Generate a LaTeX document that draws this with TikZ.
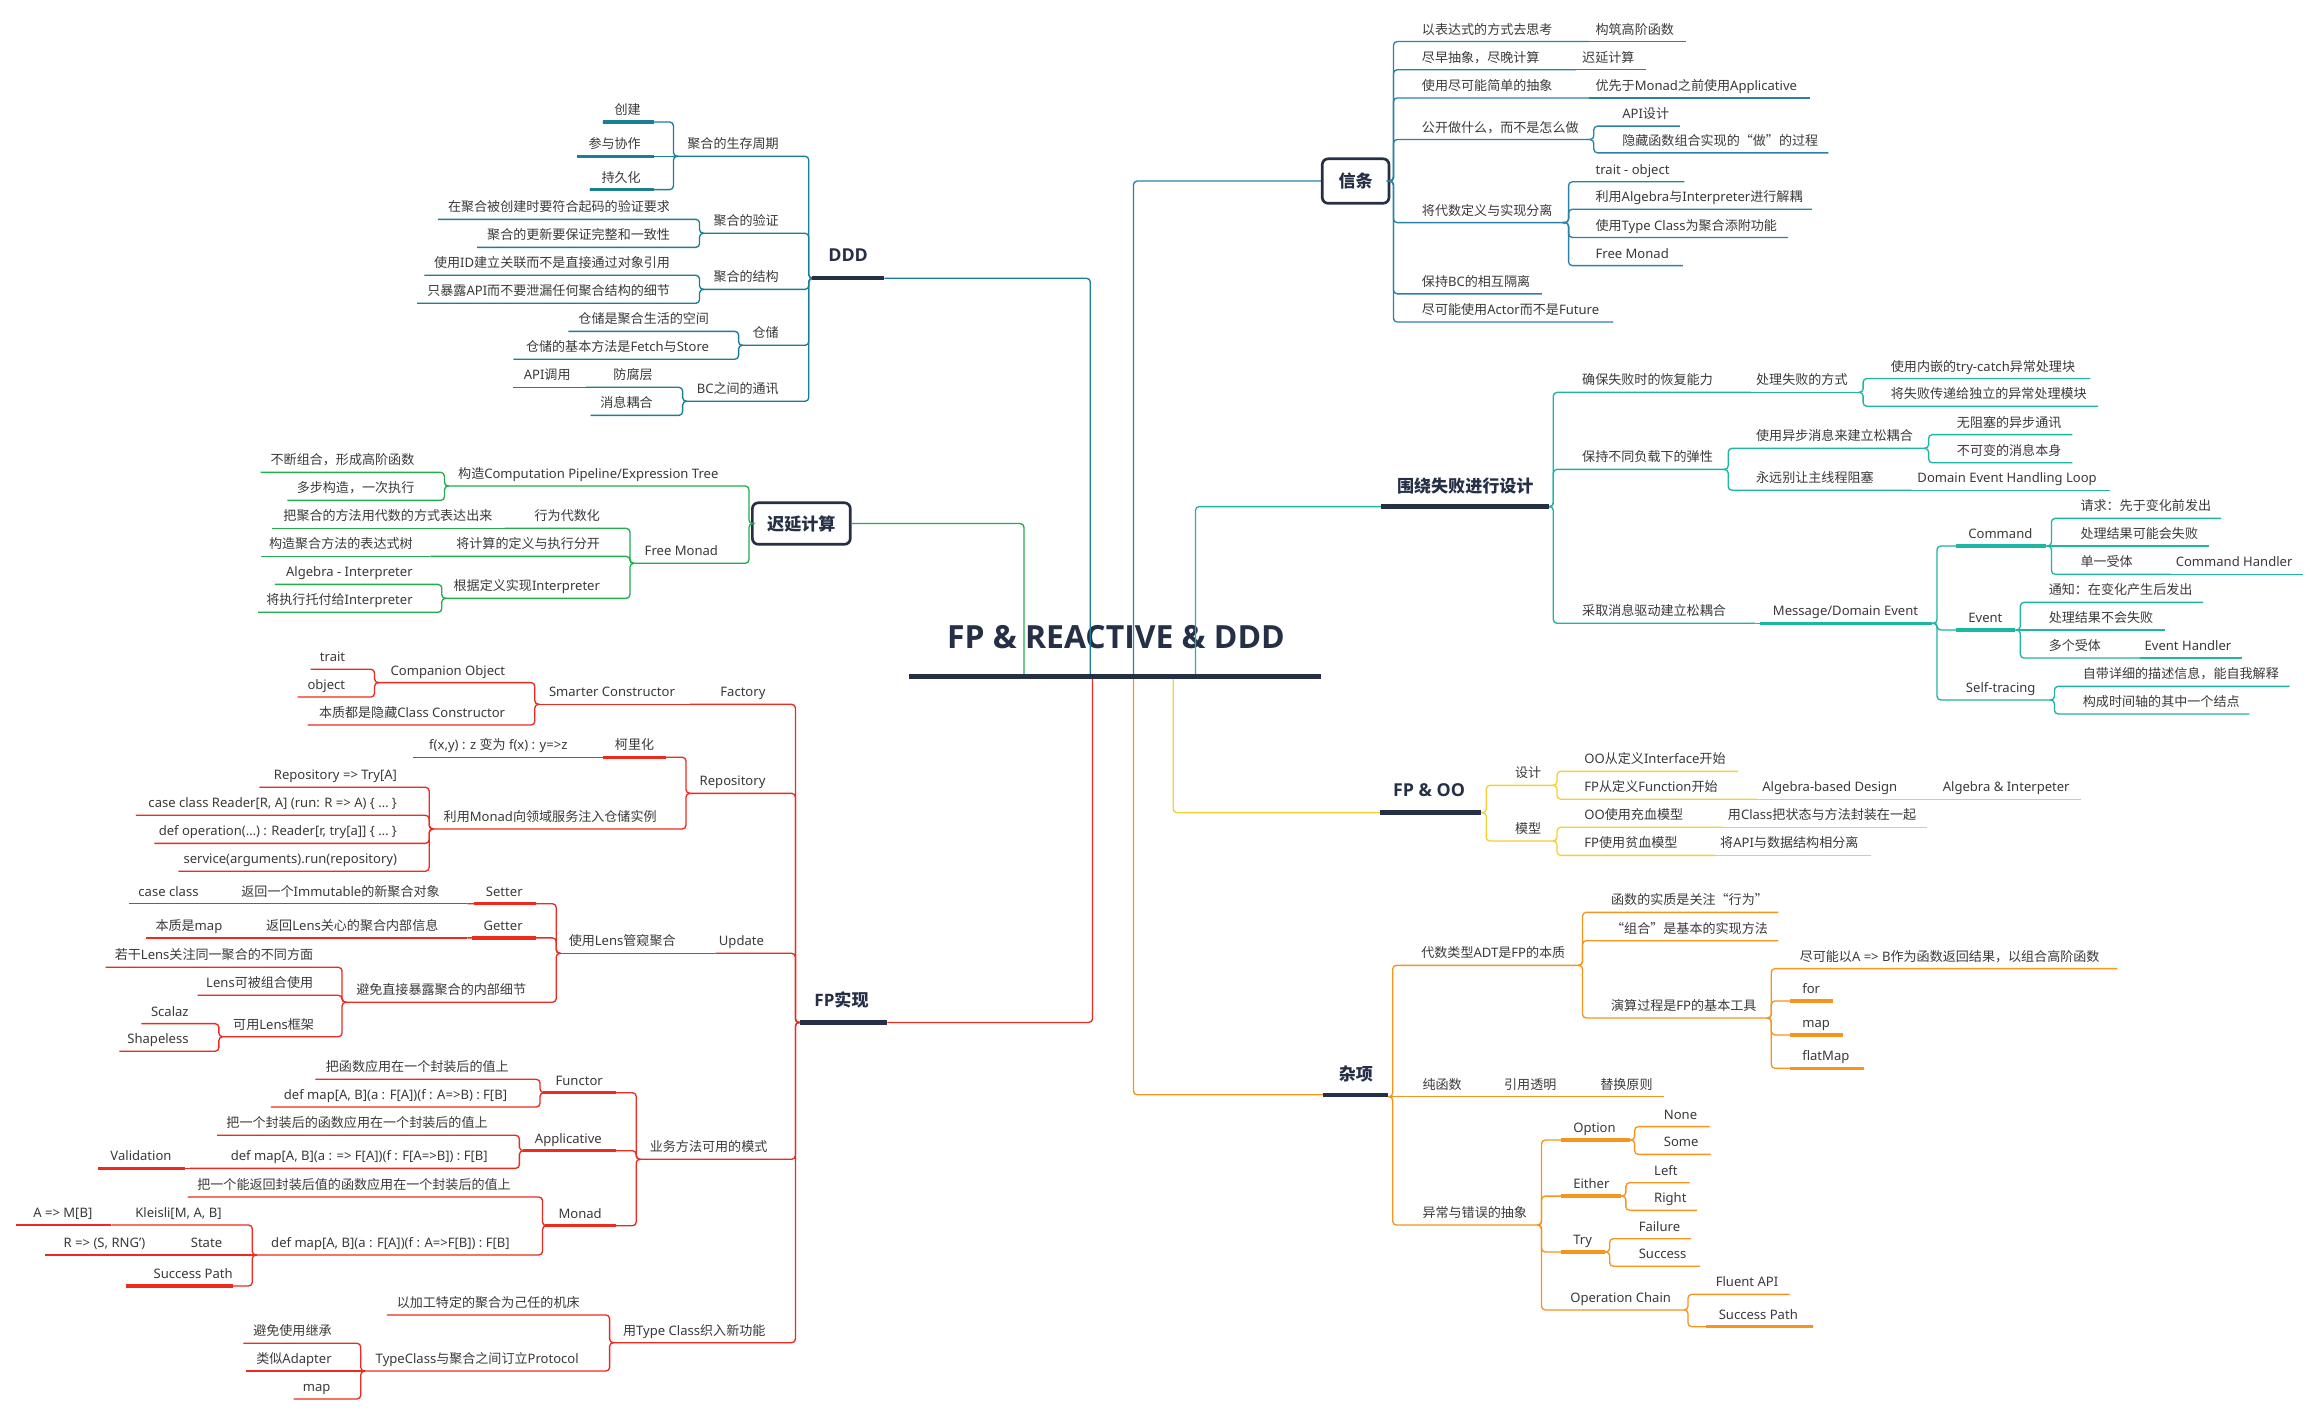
\documentclass[tikz,border=0pt]{standalone}
\usepackage{fontspec}
\setmainfont{Noto Sans}
\newfontfamily\cjkf{Noto Sans CJK SC}
\newfontfamily\latf{Noto Sans}
\newfontfamily\hdf{Open Sans}
\XeTeXinterchartokenstate=1
\newXeTeXintercharclass\cjkcls
\newcount\mycnt
\newcommand\setcjkrange[2]{\mycnt=#1\relax\loop\XeTeXcharclass\mycnt=\cjkcls\ifnum\mycnt<#2\advance\mycnt by 1\repeat}
\setcjkrange{"3000}{"303F}
\setcjkrange{"4E00}{"9FFF}
\setcjkrange{"FF00}{"FFEF}
\setcjkrange{"201C}{"201D}
\XeTeXinterchartoks 0 \cjkcls = {\cjkf}
\XeTeXinterchartoks 4095 \cjkcls = {\cjkf}
\XeTeXinterchartoks \cjkcls 0 = {\latf}
\XeTeXinterchartoks \cjkcls 4095 = {\latf}
\usetikzlibrary{calc}
\definecolor{txt}{HTML}{3A3A3A}
\definecolor{navy}{HTML}{253047}
\definecolor{cDDD}{HTML}{1A7E96}
\definecolor{cXT}{HTML}{2A82A6}
\definecolor{cCY}{HTML}{21AE4E}
\definecolor{cWR}{HTML}{1DB5A3}
\definecolor{cOO}{HTML}{F5CF35}
\definecolor{cZX}{HTML}{F7941D}
\definecolor{cFP}{HTML}{EE2A1F}
\def\bc{navy}
\tikzset{
  lbl/.style={inner sep=0pt, text=txt, font=\fontsize{8.8}{10}\selectfont},
  cn/.style={draw=\bc, line width=0.9pt, rounded corners=2.5pt},
  thk/.style={draw=\bc, line width=2.3pt},
  mainul/.style={draw=navy, line width=3pt},
  ttl/.style={inner sep=0pt, text=navy, font=\hdf\bfseries\fontsize{11.5}{13}\selectfont},
  ttlL/.style={inner sep=0pt, text=navy, font=\hdf\bfseries\fontsize{12}{14}\selectfont},
  tbox/.style={draw=navy, line width=1.8pt, rounded corners=4pt, fill=white, inner sep=0pt,
    text=navy, font=\hdf\bfseries\fontsize{11.5}{13}\selectfont}
}
\newcommand\nodeR[7]{\node[lbl,anchor=base west] (#1) at (#5,#4-5) {#7};\coordinate (#1-x) at (#6,#4);\draw[cn] (#2) -| (#3,#4) -- (#1-x);}
\newcommand\nodeL[7]{\node[lbl,anchor=base east] (#1) at (#5,#4-5) {#7};\coordinate (#1-x) at (#6,#4);\draw[cn] (#2) -| (#3,#4) -- (#1-x);}
\newcommand\chainR[6]{\node[lbl,anchor=base west] (#1) at (#4,#3-5) {#6};\coordinate (#1-x) at (#5,#3);\draw[cn] (#2) -- (#1-x);}
\newcommand\chainL[6]{\node[lbl,anchor=base east] (#1) at (#4,#3-5) {#6};\coordinate (#1-x) at (#5,#3);\draw[cn] (#2) -- (#1-x);}
\begin{document}
\begin{tikzpicture}[x=1pt,y=-1pt]
\fill[white] (0,0) rectangle (1560,953.5);
\useasboundingbox (0,0) rectangle (1560,953.5);

% root
\node[inner sep=0pt, text=navy, font=\hdf\bfseries\fontsize{21.5}{24}\selectfont, anchor=base] (root) at (752,437) {FP \& REACTIVE \& DDD};
\coordinate (rCY) at (690,456);
\coordinate (rDDD) at (734.7,456);
\coordinate (rXT) at (763.8,456);
\coordinate (rWR) at (805.6,456);
\coordinate (rFP) at (736.2,456);
\coordinate (rZX) at (763.8,456);
\coordinate (rOO) at (790.6,456);

% ================= 信条
\begin{scope}
\def\bc{cXT}
\node[tbox, minimum width=45pt, minimum height=30pt] (xt) at (913.5,122) {信条};
\draw[cn] (rXT) |- (xt.west);
\nodeR{x1}{xt.east}{939}{28}{958}{1071}{以表达式的方式去思考}
\chainR{x1a}{x1-x}{28}{1075}{1136}{构筑高阶函数}
\nodeR{x2}{xt.east}{939}{47}{958}{1062}{尽早抽象，尽晚计算}
\chainR{x2a}{x2-x}{47}{1066}{1109}{迟延计算}
\nodeR{x3}{xt.east}{939}{66}{958}{1071}{使用尽可能简单的抽象}
\chainR{x3a}{x3-x}{66}{1075}{1220}{优先于Monad之前使用Applicative}
\nodeR{x4}{xt.east}{939}{94}{958}{1070}{公开做什么，而不是怎么做}
\nodeR{x4a}{x4-x}{1074}{85}{1093}{1132}{API设计}
\nodeR{x4b}{x4-x}{1074}{103}{1093}{1232}{隐藏函数组合实现的“做”的过程}
\nodeR{x5}{xt.east}{939}{150}{958}{1053}{将代数定义与实现分离}
\nodeR{x5a}{x5-x}{1057}{122.5}{1075}{1135}{trait - object}
\nodeR{x5b}{x5-x}{1057}{141}{1075}{1221}{利用Algebra与Interpreter进行解耦}
\nodeR{x5c}{x5-x}{1057}{160}{1075}{1205}{使用Type Class为聚合添附功能}
\nodeR{x5d}{x5-x}{1057}{179}{1075}{1134}{Free Monad}
\nodeR{x6}{xt.east}{939}{198}{958}{1039}{保持BC的相互隔离}
\nodeR{x7}{xt.east}{939}{217}{958}{1087}{尽可能使用Actor而不是Future}
\end{scope}

% ================= DDD
\begin{scope}
\def\bc{cDDD}
\node[ttlL, anchor=base] (ddd) at (571.5,176.3) {DDD};
\coordinate (dd-x) at (547,187.5);
\coordinate (dd-r) at (596,187.5);
\draw[cn] (rDDD) |- (dd-r);
\nodeL{d1}{dd-x}{545}{105.3}{525}{457}{聚合的生存周期}
\nodeL{d1a}{d1-x}{453.8}{82.2}{432}{406}{创建}
\chainL{d1b}{d1-x}{105.3}{432}{389}{参与协作}
\nodeL{d1c}{d1-x}{453.8}{127.8}{432}{397.4}{持久化}
\draw[thk] (406,82.2) -- (441,82.2);
\draw[thk] (389,105.3) -- (441,105.3);
\draw[thk] (397.4,127.8) -- (441,127.8);
\nodeL{d2}{dd-x}{545}{157.2}{525}{474.5}{聚合的验证}
\nodeL{d2a}{d2-x}{471.4}{147.8}{451.7}{295}{在聚合被创建时要符合起码的验证要求}
\nodeL{d2b}{d2-x}{471.4}{166.7}{451.7}{321.5}{聚合的更新要保证完整和一致性}
\nodeL{d3}{dd-x}{545}{195}{525}{474.5}{聚合的结构}
\nodeL{d3a}{d3-x}{471.4}{185.5}{451.7}{286}{使用ID建立关联而不是直接通过对象引用}
\nodeL{d3b}{d3-x}{471.4}{204.4}{451.7}{281}{只暴露API而不要泄漏任何聚合结构的细节}
\nodeL{d4}{dd-x}{545}{232.7}{525}{500.7}{仓储}
\nodeL{d4a}{d4-x}{497.7}{223.3}{478}{383}{仓储是聚合生活的空间}
\nodeL{d4b}{d4-x}{497.7}{242.1}{478}{346}{仓储的基本方法是Fetch与Store}
\nodeL{d5}{dd-x}{545}{270.4}{525}{463}{BC之间的通讯}
\nodeL{d5a}{d5-x}{460}{261}{440}{395}{防腐层}
\chainL{d5b}{d5a-x}{261}{384.7}{346}{API调用}
\nodeL{d5c}{d5-x}{460}{279.9}{440}{398}{消息耦合}
\draw[mainul] (dd-x) -- (dd-r);
\end{scope}

% ================= 迟延计算
\begin{scope}
\def\bc{cCY}
\node[tbox, minimum width=66pt, minimum height=28pt] (cy) at (540,352.8) {迟延计算};
\draw[cn] (rCY) |- (cy.east);
\nodeL{c1}{cy.west}{504.7}{327.5}{484.3}{302.5}{构造Computation Pipeline/Expression Tree}
\nodeL{c1a}{c1-x}{299.5}{318.3}{279.4}{175.7}{不断组合，形成高阶函数}
\nodeL{c1b}{c1-x}{299.5}{337.2}{279.4}{193.7}{多步构造，一次执行}
\nodeL{c2}{cy.west}{504.7}{379.6}{484}{427.5}{Free Monad}
\nodeL{c2a}{c2-x}{424.5}{356}{404.5}{340}{行为代数化}
\chainL{c2a1}{c2a-x}{356}{332}{183.3}{把聚合的方法用代数的方式表达出来}
\nodeL{c2b}{c2-x}{424.5}{374.9}{404.5}{290}{将计算的定义与执行分开}
\chainL{c2b1}{c2b-x}{374.9}{278.3}{175.7}{构造聚合方法的表达式树}
\nodeL{c2c}{c2-x}{424.5}{403.2}{404.5}{300.7}{根据定义实现Interpreter}
\nodeL{c2c1}{c2c-x}{297.7}{393.8}{278.3}{185.3}{Algebra - Interpreter}
\nodeL{c2c2}{c2c-x}{297.7}{412.6}{278.3}{174}{将执行托付给Interpreter}
\end{scope}

% ================= 围绕失败进行设计
\begin{scope}
\def\bc{cWR}
\node[ttl, anchor=base west] (wr) at (941.2,332) {围绕失败进行设计};
\coordinate (wr-l) at (930.7,341.4);
\coordinate (wr-x) at (1043.8,341.4);
\draw[cn] (rWR) |- (wr-l);
\nodeR{w1}{wr-x}{1046.7}{264.4}{1066}{1180}{确保失败时的恢复能力}
\chainR{w1a}{w1-x}{264.4}{1183.2}{1252.5}{处理失败的方式}
\nodeR{w1a1}{w1a-x}{1255.5}{255}{1274}{1408.6}{使用内嵌的try-catch异常处理块}
\nodeR{w1a2}{w1a-x}{1255.5}{273.8}{1274}{1413.9}{将失败传递给独立的异常处理模块}
\nodeR{w2}{wr-x}{1046.7}{316.3}{1066}{1161.6}{保持不同负载下的弹性}
\nodeR{w2a}{w2-x}{1164.6}{302.1}{1183.2}{1296.6}{使用异步消息来建立松耦合}
\nodeR{w2a1}{w2a-x}{1299.6}{292.9}{1318.5}{1396.5}{无阻塞的异步通讯}
\nodeR{w2a2}{w2a-x}{1299.6}{311.8}{1318.5}{1396.5}{不可变的消息本身}
\nodeR{w2b}{w2-x}{1164.6}{330.4}{1183.2}{1288}{永远别让主线程阻塞}
\chainR{w2b1}{w2b-x}{330.4}{1291.9}{1422}{Domain Event Handling Loop}
\nodeR{w3}{wr-x}{1046.7}{420}{1066}{1183}{采取消息驱动建立松耦合}
\chainR{w3a}{w3-x}{420}{1194.5}{1302.3}{Message/Domain Event}
\draw[thk] (1186,420) -- (1302,420);
\nodeR{w3a1}{w3a-x}{1305.3}{367.9}{1326.2}{1379.4}{Command}
\draw[thk] (1318.1,367.9) -- (1378.7,367.9);
\nodeR{w3a1a}{w3a1-x}{1382.4}{349.3}{1401.8}{1496.7}{请求：先于变化前发出}
\chainR{w3a1b}{w3a1-x}{367.9}{1401.8}{1488.6}{处理结果可能会失败}
\nodeR{w3a1c}{w3a1-x}{1382.4}{387}{1401.8}{1463}{单一受体}
\chainR{w3a1c1}{w3a1c-x}{387}{1466}{1552}{Command Handler}
\nodeR{w3a2}{w3a-x}{1305.3}{424.5}{1326.2}{1358.4}{Event}
\draw[thk] (1318.1,424.5) -- (1357.7,424.5);
\nodeR{w3a2a}{w3a2-x}{1361.4}{405.9}{1380.4}{1484.6}{通知：在变化产生后发出}
\chainR{w3a2b}{w3a2-x}{424.5}{1380.4}{1459.2}{处理结果不会失败}
\nodeR{w3a2c}{w3a2-x}{1361.4}{443.4}{1380.4}{1442}{多个受体}
\chainR{w3a2c1}{w3a2c-x}{443.4}{1445}{1511}{Event Handler}
\nodeR{w3a3}{w3a-x}{1305.3}{471.7}{1324.6}{1381.4}{Self-tracing}
\nodeR{w3a3a}{w3a3-x}{1384.4}{462.5}{1403.4}{1542.8}{自带详细的描述信息，能自我解释}
\nodeR{w3a3b}{w3a3-x}{1384.4}{481.1}{1403.4}{1515.7}{构成时间轴的其中一个结点}
\draw[mainul] (wr-l) -- (wr-x);
\end{scope}

% ================= FP & OO
\begin{scope}
\def\bc{cOO}
\node[ttlL, anchor=base west] (oo) at (938.5,536.8) {FP \& OO};
\coordinate (oo-l) at (930,547.6);
\coordinate (oo-x) at (998,547.6);
\draw[cn] (rOO) |- (oo-l);
\nodeR{o1}{oo-x}{1001.5}{529.2}{1020.8}{1046.2}{设计}
\nodeR{o1a}{o1-x}{1049.2}{519.8}{1067.5}{1171.1}{OO从定义Interface开始}
\nodeR{o1b}{o1-x}{1049.2}{538.6}{1067.5}{1184}{FP从定义Function开始}
\chainR{o1b1}{o1b-x}{538.6}{1187.4}{1306}{Algebra-based Design}
\chainR{o1b2}{o1b1-x}{538.6}{1309}{1402.3}{Algebra \& Interpeter}
\nodeR{o2}{oo-x}{1001.5}{566.7}{1020.8}{1046.2}{模型}
\nodeR{o2a}{o2-x}{1049.2}{557.5}{1067.5}{1161}{OO使用充血模型}
\chainR{o2a1}{o2a-x}{557.5}{1164.2}{1298.7}{用Class把状态与方法封装在一起}
\nodeR{o2b}{o2-x}{1049.2}{576.4}{1067.5}{1156}{FP使用贫血模型}
\chainR{o2b1}{o2b-x}{576.4}{1159}{1261}{将API与数据结构相分离}
\draw[mainul] (oo-l) -- (oo-x);
\end{scope}

% ================= 杂项
\begin{scope}
\def\bc{cZX}
\node[ttl, anchor=base west] (zx) at (902,728) {杂项};
\coordinate (zx-l) at (891.5,737.7);
\coordinate (zx-r) at (935.6,737.7);
\coordinate (zx-x) at (935.6,739);
\draw[cn] (rZX) |- (zx-l);
\nodeR{z1}{zx-x}{938.5}{650.5}{957.6}{1063.4}{代数类型ADT是FP的本质}
\nodeR{z1a}{z1-x}{1066.4}{614.8}{1085.5}{1198.4}{函数的实质是关注“行为”}
\nodeR{z1b}{z1-x}{1066.4}{633.9}{1085.5}{1198.4}{“组合”是基本的实现方法}
\nodeR{z1c}{z1-x}{1066.4}{686}{1085.5}{1190.6}{演算过程是FP的基本工具}
\nodeR{z1c1}{z1c-x}{1193.6}{652.7}{1212.6}{1426.8}{尽可能以A => B作为函数返回结果，以组合高阶函数}
\nodeR{z1c2}{z1c-x}{1193.6}{674.5}{1214.3}{1235}{for}
\nodeR{z1c3}{z1c-x}{1193.6}{697.4}{1214.3}{1242}{map}
\nodeR{z1c4}{z1c-x}{1193.6}{719.9}{1214.3}{1256}{flatMap}
\draw[thk] (1206.4,674.5) -- (1235,674.5);
\draw[thk] (1206.4,697.4) -- (1242,697.4);
\draw[thk] (1206.4,719.9) -- (1256,719.9);
\chainR{z2}{zx-x}{739}{958.4}{1010}{纯函数}
\chainR{z2a}{z2-x}{739}{1013.4}{1075}{引用透明}
\chainR{z2b}{z2a-x}{739}{1078.2}{1121}{替换原则}
\nodeR{z3}{zx-x}{938.5}{825.5}{958.4}{1035.8}{异常与错误的抽象}
\nodeR{z3a}{z3-x}{1038.8}{768.2}{1060}{1098.5}{Option}
\draw[thk] (1051.8,768.2) -- (1098.1,768.2);
\nodeR{z3a1}{z3a-x}{1101.5}{759.2}{1121}{1152}{None}
\nodeR{z3a2}{z3a-x}{1101.5}{777.9}{1121}{1152.8}{Some}
\nodeR{z3b}{z3-x}{1038.8}{806}{1060}{1092.6}{Either}
\draw[thk] (1051.8,806) -- (1092.3,806);
\nodeR{z3b1}{z3b-x}{1095.6}{797}{1114.5}{1138.6}{Left}
\nodeR{z3b2}{z3b-x}{1095.6}{815.6}{1114.5}{1143.7}{Right}
\nodeR{z3c}{z3-x}{1038.8}{843.7}{1060}{1081.7}{Try}
\draw[thk] (1051.8,843.7) -- (1081.4,843.7);
\nodeR{z3c1}{z3c-x}{1084.7}{834.7}{1104.1}{1139.6}{Failure}
\nodeR{z3c2}{z3c-x}{1084.7}{853.3}{1104.1}{1145.5}{Success}
\nodeR{z3d}{z3-x}{1038.8}{882.7}{1058}{1134.5}{Operation Chain}
\nodeR{z3d1}{z3d-x}{1137.5}{872.2}{1156}{1206}{Fluent API}
\nodeR{z3d2}{z3d-x}{1137.5}{894}{1158}{1222}{Success Path}
\draw[thk] (1149.7,894) -- (1222,894);
\draw[mainul] (zx-l) -- (zx-r);
\end{scope}

% ================= FP实现
\begin{scope}
\def\bc{cFP}
\node[ttl, anchor=base west] (fp) at (548.6,678.4) {FP实现};
\coordinate (fp-x) at (539,689);
\coordinate (fp-r) at (598,689);
\draw[cn] (rFP) |- (fp-r);
\nodeL{f1}{fp-x}{536}{474.6}{516}{465}{Factory}
\chainL{f1a}{f1-x}{474.6}{455}{363.4}{Smarter Constructor}
\nodeL{f1a1}{f1a-x}{360.4}{460}{340.6}{255.4}{Companion Object}
\nodeL{f1a1a}{f1a1-x}{252.4}{451}{232.8}{209.3}{trait}
\nodeL{f1a1b}{f1a1-x}{252.4}{469.7}{232.8}{200.5}{object}
\nodeL{f1a2}{f1a-x}{360.4}{488.5}{340.6}{207.3}{本质都是隐藏Class Constructor}
\nodeL{f2}{fp-x}{536}{534.6}{516}{465.3}{Repository}
\nodeL{f2a}{f2-x}{462.3}{510.3}{441}{406.4}{柯里化}
\draw[thk] (406.4,510.3) -- (448.8,510.3);
\chainL{f2a1}{f2a-x}{510.3}{382.6}{278}{f(x,y) : z 变为 f(x) : y=>z}
\nodeL{f2b}{f2-x}{462.3}{558.6}{442.7}{292.2}{利用Monad向领域服务注入仓储实例}
\nodeL{f2b1}{f2b-x}{289.2}{530.5}{267.7}{174.7}{Repository => Try[A]}
\nodeL{f2b2}{f2b-x}{289.2}{549.4}{267.7}{91.6}{case class Reader[R, A] (run: R => A) \{ … \}}
\nodeL{f2b3}{f2b-x}{289.2}{568.3}{267.7}{104}{def operation(…) : Reader[r, try[a]] \{ … \}}
\nodeL{f2b4}{f2b-x}{289.2}{587.1}{267.7}{120.2}{service(arguments).run(repository)}
\nodeL{f3}{fp-x}{536}{642.4}{515}{482}{Update}
\chainL{f3a}{f3-x}{642.4}{455.5}{377.8}{使用Lens管窥聚合}
\nodeL{f3a1}{f3a-x}{374.8}{609}{352.4}{315}{Setter}
\draw[thk] (319.4,609) -- (361.5,609);
\chainL{f3a1a}{f3a1-x}{609}{296.5}{160}{返回一个Immutable的新聚合对象}
\chainL{f3a1b}{f3a1a-x}{609}{134}{87}{case class}
\nodeL{f3a2}{f3a-x}{374.8}{632}{352.4}{315}{Getter}
\draw[thk] (318.3,632) -- (361.5,632);
\chainL{f3a2a}{f3a2-x}{632}{295.6}{175}{返回Lens关心的聚合内部信息}
\chainL{f3a2b}{f3a2a-x}{632}{150}{98.4}{本质是map}
\nodeL{f3a3}{f3a-x}{374.8}{675.4}{354.7}{233.5}{避免直接暴露聚合的内部细节}
\nodeL{f3a3a}{f3a3-x}{230.5}{651.8}{211.2}{71.1}{若干Lens关注同一聚合的不同方面}
\nodeL{f3a3b}{f3a3-x}{230.5}{670.7}{211.2}{133.2}{Lens可被组合使用}
\nodeL{f3a3c}{f3a3-x}{230.5}{698.6}{211.8}{150.5}{可用Lens框架}
\nodeL{f3a3c1}{f3a3c-x}{147.5}{689.8}{127.3}{95.3}{Scalaz}
\nodeL{f3a3c2}{f3a3c-x}{147.5}{708.4}{127.3}{80.5}{Shapeless}
\nodeL{f4}{fp-x}{536}{781.2}{517.3}{431.7}{业务方法可用的模式}
\nodeL{f4a}{f4-x}{428.7}{736.3}{406.4}{366.9}{Functor}
\draw[thk] (365.6,736.3) -- (415.2,736.3);
\nodeL{f4a1}{f4a-x}{363.9}{727.3}{343}{212.6}{把函数应用在一个封装后的值上}
\nodeL{f4a2}{f4a-x}{363.9}{746}{341.9}{182.5}{def map[A, B](a : F[A])(f : A=>B) : F[B]}
\nodeL{f4b}{f4-x}{428.7}{775.4}{405.7}{353}{Applicative}
\draw[thk] (352.5,775.4) -- (415.2,775.4);
\nodeL{f4b1}{f4b-x}{350}{765}{328.8}{146.3}{把一个封装后的函数应用在一个封装后的值上}
\nodeL{f4b2}{f4b-x}{350}{787.3}{328.8}{128}{def map[A, B](a : => F[A])(f : F[A=>B]) : F[B]}
\chainL{f4b2a}{f4b2-x}{787.3}{115.8}{66.3}{Validation}
\draw[thk] (66.3,787.3) -- (125,787.3);
\nodeL{f4c}{f4-x}{428.7}{826}{405.7}{368.6}{Monad}
\draw[thk] (367.4,826) -- (415.2,826);
\nodeL{f4c1}{f4c-x}{365.6}{806.6}{344.4}{126.5}{把一个能返回封装后值的函数应用在一个封装后的值上}
\nodeL{f4c2}{f4c-x}{365.6}{845.7}{343.7}{173}{def map[A, B](a : F[A])(f : A=>F[B]) : F[B]}
\nodeL{f4c2a}{f4c2-x}{170}{825.5}{149.5}{75}{Kleisli[M, A, B]}
\chainL{f4c2a1}{f4c2a-x}{825.5}{62.4}{10.6}{A => M[B]}
\chainL{f4c2b}{f4c2-x}{845.7}{149.9}{115}{State}
\chainL{f4c2b1}{f4c2b-x}{845.7}{98.1}{30.1}{R => (S, RNG')}
\nodeL{f4c2c}{f4c2-x}{170}{866.6}{157}{85}{Success Path}
\draw[thk] (85,866.6) -- (157,866.6);
\nodeL{f5}{fp-x}{536}{904.8}{516}{413.8}{用Type Class织入新功能}
\nodeL{f5a}{f5-x}{410.8}{886.1}{390.8}{260.7}{以加工特定的聚合为己任的机床}
\nodeL{f5b}{f5-x}{410.8}{923.9}{390.2}{246.1}{TypeClass与聚合之间订立Protocol}
\nodeL{f5b1}{f5b-x}{243.1}{905.2}{223.7}{164}{避免使用继承}
\chainL{f5b2}{f5b-x}{923.9}{223.7}{165.8}{类似Adapter}
\nodeL{f5b3}{f5b-x}{243.1}{942.7}{222.9}{197.8}{map}
\draw[mainul] (fp-x) -- (fp-r);
\end{scope}

% root underline on top of branch starts
\draw[navy, line width=3.4pt] (612.8,456) coordinate (rootL) -- (890.1,456) coordinate (rootR);
\end{tikzpicture}
\end{document}
